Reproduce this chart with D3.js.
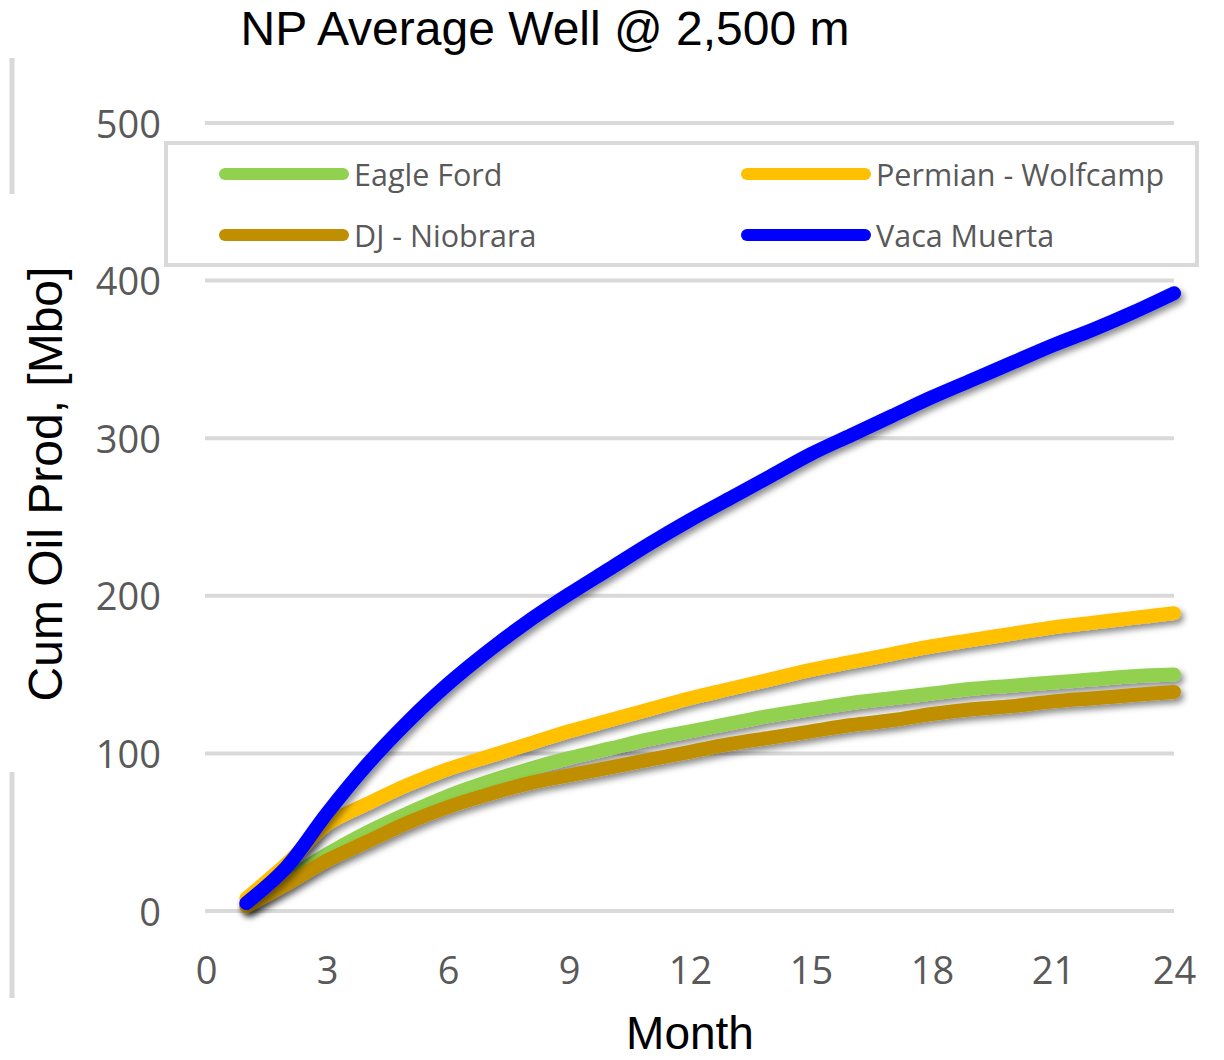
<!DOCTYPE html>
<html>
<head>
<meta charset="utf-8">
<script src="https://cdn.jsdelivr.net/npm/d3@7"></script>
<style>
body { margin: 0; background: #fff; }
svg { display: block; }
</style>
</head>
<body>
<svg></svg>
<script>
// months 1..24
var months = d3.range(1, 25);
var seriesNames = ["Eagle Ford", "Permian - Wolfcamp", "DJ - Niobrara", "Vaca Muerta"];
var seriesColors = ["#92D050", "#FFC000", "#BF8F00", "#0000FF"];

var eagleFord = [4, 20, 36, 50, 62, 73, 82, 90, 97, 103, 109, 114, 119, 124, 128, 132, 135, 138, 141, 143, 145, 147, 149, 150];
var permian = [8, 30, 55, 68, 80, 90, 98, 106, 114, 121, 128, 135, 141, 147, 153, 158, 163, 168, 172, 176, 180, 183, 186, 189];
var djNiobrara = [3, 17, 32, 44, 56, 66, 74, 81, 86, 91, 96, 101, 106, 110, 114, 118, 121, 125, 128, 130, 133, 135, 137, 139];
var vacaMuerta = [5, 28, 62, 93, 120, 144, 165, 184, 201, 217, 233, 248, 262, 276, 290, 302, 314, 326, 337, 348, 359, 369, 380, 392];

var xTicks = [0, 3, 6, 9, 12, 15, 18, 21, 24];
var yTicks = [0, 100, 200, 300, 400, 500];

var allSeries = [eagleFord, permian, djNiobrara, vacaMuerta];

var screen = {width: 1224, height: 1060};
var svg = d3.select("svg")
    .attr("width", screen.width)
    .attr("height", screen.height);

var xScale = d3.scaleLinear()
    .domain([0, 24])
    .range([206, 1174]);

var yScale = d3.scaleLinear()
    .domain([0, 500])
    .range([911, 123]);

var defs = svg.append("defs");
defs.append("filter")
    .attr("id", "shadow")
    .attr("x", "-10%").attr("y", "-10%")
    .attr("width", "130%").attr("height", "130%")
    .append("feDropShadow")
    .attr("dx", 3)
    .attr("dy", 4)
    .attr("stdDeviation", 3)
    .attr("flood-color", "#000")
    .attr("flood-opacity", 0.45);

// left edge bars (cropped frame)
svg.append("line")
    .attr("x1", 12).attr("x2", 12).attr("y1", 58).attr("y2", 194)
    .attr("stroke", "#d9d9d9").attr("stroke-width", 5);
svg.append("line")
    .attr("x1", 12).attr("x2", 12).attr("y1", 772).attr("y2", 998)
    .attr("stroke", "#d9d9d9").attr("stroke-width", 5);

// gridlines
svg.append("g")
    .selectAll("line")
    .data(yTicks)
    .enter()
    .append("line")
    .attr("x1", 205)
    .attr("x2", 1174)
    .attr("y1", function(d){ return yScale(d); })
    .attr("y2", function(d){ return yScale(d); })
    .attr("stroke", "#d9d9d9")
    .attr("stroke-width", 4);

// y axis
var yAxis = d3.axisLeft(yScale)
    .tickValues(yTicks)
    .tickSize(0)
    .tickPadding(0);
var yG = svg.append("g")
    .attr("transform", "translate(161,2)")
    .call(yAxis);
yG.select(".domain").remove();
yG.selectAll("text")
    .attr("font-family", "Open Sans")
    .attr("font-size", 38)
    .attr("fill", "#595959");

// x axis
var xAxis = d3.axisBottom(xScale)
    .tickValues(xTicks)
    .tickSize(0)
    .tickPadding(0);
var xG = svg.append("g")
    .attr("transform", "translate(0,957)")
    .call(xAxis);
xG.select(".domain").remove();
xG.selectAll("text")
    .attr("font-family", "Open Sans")
    .attr("font-size", 38)
    .attr("fill", "#595959");

// lines
var line = d3.line()
    .x(function(d, i){ return xScale(months[i]); })
    .y(function(d){ return yScale(d); })
    .curve(d3.curveCatmullRom.alpha(0.5));

svg.append("g")
    .selectAll("path")
    .data(allSeries)
    .enter()
    .append("path")
    .attr("d", line)
    .attr("fill", "none")
    .attr("stroke", function(d, i){ return seriesColors[i]; })
    .attr("stroke-width", 14)
    .attr("stroke-linecap", "round")
    .attr("stroke-linejoin", "round")
    .attr("filter", "url(#shadow)");

// legend
svg.append("rect")
    .attr("x", 166)
    .attr("y", 143)
    .attr("width", 1031)
    .attr("height", 122)
    .attr("fill", "#fff")
    .attr("stroke", "#d9d9d9")
    .attr("stroke-width", 4);

var legendPos = [
    {x: 225, y: 174},
    {x: 747, y: 174},
    {x: 225, y: 235},
    {x: 747, y: 235}
];

var legend = svg.append("g")
    .selectAll("g")
    .data(seriesNames)
    .enter()
    .append("g")
    .attr("transform", function(d, i){
        return "translate(" + legendPos[i].x + "," + legendPos[i].y + ")";
    });
legend.append("line")
    .attr("x1", 0).attr("x2", 118)
    .attr("y1", 0).attr("y2", 0)
    .attr("stroke", function(d, i){ return seriesColors[i]; })
    .attr("stroke-width", 12)
    .attr("stroke-linecap", "round");
legend.append("text")
    .attr("x", 129)
    .attr("y", 12)
    .attr("font-family", "Open Sans")
    .attr("font-size", 30.5)
    .attr("fill", "#595959")
    .text(function(d){ return d; });

// title and axis labels
svg.append("text")
    .attr("x", 545)
    .attr("y", 45)
    .attr("text-anchor", "middle")
    .attr("font-family", "Liberation Sans, Arial")
    .attr("font-size", 48)
    .attr("fill", "#000")
    .text("NP Average Well @ 2,500 m");

svg.append("text")
    .attr("transform", "translate(62,484) rotate(-90)")
    .attr("text-anchor", "middle")
    .attr("font-family", "Liberation Sans, Arial")
    .attr("font-size", 48)
    .attr("fill", "#000")
    .text("Cum Oil Prod, [Mbo]");

svg.append("text")
    .attr("x", 690)
    .attr("y", 1049)
    .attr("text-anchor", "middle")
    .attr("font-family", "Liberation Sans, Arial")
    .attr("font-size", 46)
    .attr("fill", "#000")
    .text("Month");
</script>
</body>
</html>
